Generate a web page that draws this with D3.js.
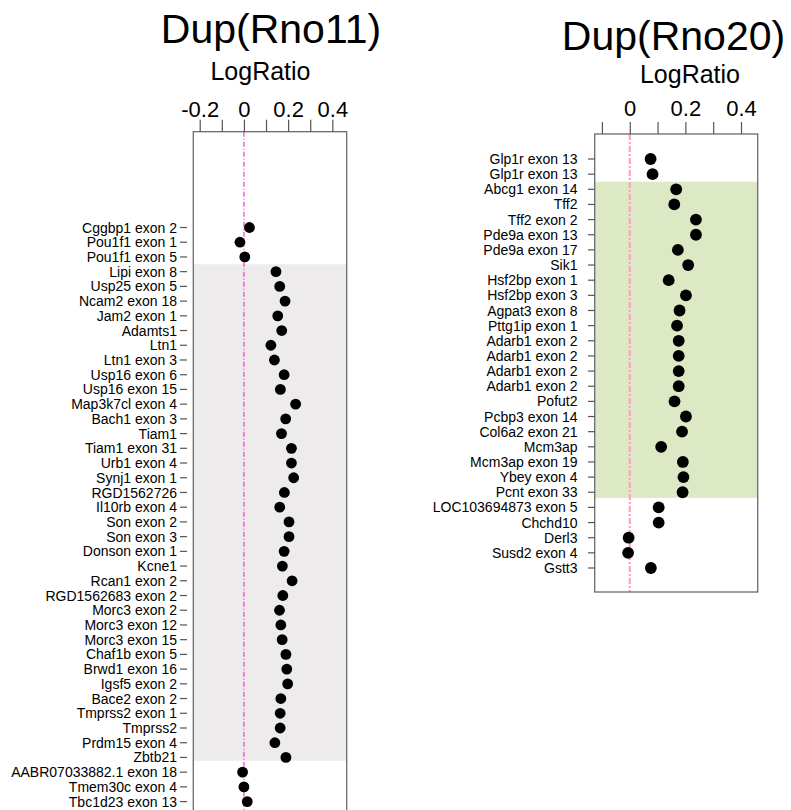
<!DOCTYPE html>
<html>
<head>
<meta charset="utf-8">
<script src="https://cdn.jsdelivr.net/npm/d3@7"></script>
<style>
  body { margin: 0; background: #fff; }
  text { font-family: "Liberation Sans", Arial, Helvetica, sans-serif; fill: #000; }
</style>
</head>
<body>
<svg id="chart" width="791" height="810"></svg>
<script>
// ---- data: Dup(Rno11) ----
var rno11Genes = [
  "Cggbp1 exon 2", "Pou1f1 exon 1", "Pou1f1 exon 5", "Lipi exon 8", "Usp25 exon 5",
  "Ncam2 exon 18", "Jam2 exon 1", "Adamts1", "Ltn1", "Ltn1 exon 3",
  "Usp16 exon 6", "Usp16 exon 15", "Map3k7cl exon 4", "Bach1 exon 3", "Tiam1",
  "Tiam1 exon 31", "Urb1 exon 4", "Synj1 exon 1", "RGD1562726", "Il10rb exon 4",
  "Son exon 2", "Son exon 3", "Donson exon 1", "Kcne1", "Rcan1 exon 2",
  "RGD1562683 exon 2", "Morc3 exon 2", "Morc3 exon 12", "Morc3 exon 15", "Chaf1b exon 5",
  "Brwd1 exon 16", "Igsf5 exon 2", "Bace2 exon 2", "Tmprss2 exon 1", "Tmprss2",
  "Prdm15 exon 4", "Zbtb21", "AABR07033882.1 exon 18", "Tmem30c exon 4", "Tbc1d23 exon 13"
];
var rno11LogRatio = [
  0.025, -0.018, 0.004, 0.145, 0.162,
  0.186, 0.153, 0.171, 0.122, 0.138,
  0.182, 0.165, 0.234, 0.189, 0.17,
  0.215, 0.215, 0.225, 0.183, 0.162,
  0.204, 0.204, 0.182, 0.174, 0.218,
  0.176, 0.161, 0.167, 0.173, 0.19,
  0.194, 0.198, 0.167, 0.164, 0.164,
  0.14, 0.19, -0.006, 0.0, 0.015
];
var rno11Ticks = [-0.2, -0.1, 0, 0.1, 0.2, 0.3, 0.4];
var rno11TickLabels = ["-0.2", "", "0", "", "0.2", "", "0.4"];
var rno11BandRows = [3, 36];

// ---- data: Dup(Rno20) ----
var rno20Genes = [
  "Glp1r exon 13", "Glp1r exon 13", "Abcg1 exon 14", "Tff2", "Tff2 exon 2",
  "Pde9a exon 13", "Pde9a exon 17", "Sik1", "Hsf2bp exon 1", "Hsf2bp exon 3",
  "Agpat3 exon 8", "Pttg1ip exon 1", "Adarb1 exon 2", "Adarb1 exon 2", "Adarb1 exon 2",
  "Adarb1 exon 2", "Pofut2", "Pcbp3 exon 14", "Col6a2 exon 21", "Mcm3ap",
  "Mcm3ap exon 19", "Ybey exon 4", "Pcnt exon 33", "LOC103694873 exon 5", "Chchd10",
  "Derl3", "Susd2 exon 4", "Gstt3"
];
var rno20LogRatio = [
  0.075, 0.082, 0.167, 0.16, 0.238,
  0.238, 0.173, 0.21, 0.14, 0.202,
  0.179, 0.17, 0.176, 0.176, 0.176,
  0.176, 0.161, 0.202, 0.188, 0.113,
  0.191, 0.193, 0.19, 0.104, 0.104,
  -0.004, -0.006, 0.076
];
var rno20Ticks = [-0.1, 0, 0.1, 0.2, 0.3, 0.4];
var rno20TickLabels = ["", "0", "", "0.2", "", "0.4"];
var rno20BandRows = [2, 22];

var svg = d3.select("#chart");

function drawPanel(p) {
  var g = svg.append("g");

  var x = d3.scaleLinear().domain(p.xDomain).range([p.box.x0, p.box.x1]);
  var y = d3.scaleLinear().domain([0, p.genes.length - 1]).range(p.rows);

  // highlighted band
  g.append("rect")
    .attr("x", p.box.x0)
    .attr("width", p.box.x1 - p.box.x0)
    .attr("y", y(p.band[0] - 0.5))
    .attr("height", y(p.band[1] + p.bandTail) - y(p.band[0] - 0.5))
    .style("fill", p.bandColor);

  // zero reference line
  g.append("line")
    .attr("x1", x(0)).attr("x2", x(0))
    .attr("y1", p.box.y0).attr("y2", p.box.y1)
    .style("stroke", p.zeroColor)
    .style("stroke-width", p.zeroWidth)
    .style("stroke-dasharray", p.zeroDash);

  // box
  g.append("rect")
    .attr("x", p.box.x0).attr("y", p.box.y0)
    .attr("width", p.box.x1 - p.box.x0)
    .attr("height", p.box.y1 - p.box.y0)
    .style("fill", "none")
    .style("stroke", "#6a6a6a")
    .style("stroke-width", 1.3);

  // top axis
  var axis = d3.axisTop(x)
    .tickValues(p.ticks)
    .tickSize(p.tickLen)
    .tickPadding(p.tickPad)
    .tickFormat(function(d, i) { return p.tickLabels[i]; });
  var ax = g.append("g")
    .attr("transform", "translate(0," + p.box.y0 + ")")
    .call(axis);
  ax.select(".domain").remove();
  ax.selectAll("line").style("stroke", "#555").style("stroke-width", 1.2);
  ax.selectAll("text")
    .style("font-size", "22px")
    .style("font-family", "'Liberation Sans', Arial, sans-serif")
    .attr("fill", "#000");

  // row ticks + gene labels
  g.selectAll(".rtick")
    .data(p.genes)
    .enter().append("line")
    .attr("class", "rtick")
    .attr("x1", p.rowTick[0]).attr("x2", p.rowTick[1])
    .attr("y1", function(d, i) { return y(i); })
    .attr("y2", function(d, i) { return y(i); })
    .style("stroke", "#555")
    .style("stroke-width", 1.2);

  g.selectAll(".glabel")
    .data(p.genes)
    .enter().append("text")
    .attr("class", "glabel")
    .attr("x", p.labelRight)
    .attr("y", function(d, i) { return y(i); })
    .attr("dy", "0.36em")
    .attr("text-anchor", "end")
    .style("font-size", "14px")
    .text(function(d) { return d; });

  // dots
  g.selectAll(".dot")
    .data(p.values)
    .enter().append("circle")
    .attr("class", "dot")
    .attr("cx", function(d) { return x(d); })
    .attr("cy", function(d, i) { return y(i); })
    .attr("r", p.dotR)
    .style("fill", "#000");

  // titles
  g.append("text")
    .attr("x", p.titlePos[0]).attr("y", p.titlePos[1])
    .attr("text-anchor", "middle")
    .style("font-size", "41px")
    .text(p.title);

  g.append("text")
    .attr("x", p.xlabPos[0]).attr("y", p.xlabPos[1])
    .attr("text-anchor", "middle")
    .style("font-size", "25px")
    .text("LogRatio");
}

drawPanel({
  title: "Dup(Rno11)",
  genes: rno11Genes,
  values: rno11LogRatio,
  ticks: rno11Ticks,
  tickLabels: rno11TickLabels,
  band: rno11BandRows,
  bandTail: 0.23,
  bandColor: "#edebec",
  zeroColor: "#ff33cc",
  zeroWidth: 1.2,
  zeroDash: "5,2,1,2",
  box: {x0: 193.3, x1: 346.7, y0: 131.7, y1: 840},
  xDomain: [-0.229, 0.465],
  rows: [227.5, 801.6],
  dotR: 5.4,
  tickLen: 12,
  tickPad: 3,
  rowTick: [180, 187],
  labelRight: 177,
  titlePos: [271, 43],
  xlabPos: [260.5, 80]
});

drawPanel({
  title: "Dup(Rno20)",
  genes: rno20Genes,
  values: rno20LogRatio,
  ticks: rno20Ticks,
  tickLabels: rno20TickLabels,
  band: rno20BandRows,
  bandTail: 0.37,
  bandColor: "#dce9c4",
  zeroColor: "#ffa0c8",
  zeroWidth: 2.2,
  zeroDash: "6,2,2,2",
  box: {x0: 594.7, x1: 757.7, y0: 134, y1: 592},
  xDomain: [-0.126, 0.46],
  rows: [159, 568],
  dotR: 5.9,
  tickLen: 12,
  tickPad: 6,
  rowTick: [588, 595],
  labelRight: 577.5,
  titlePos: [673.5, 50],
  xlabPos: [690, 83]
});
</script>
</body>
</html>
